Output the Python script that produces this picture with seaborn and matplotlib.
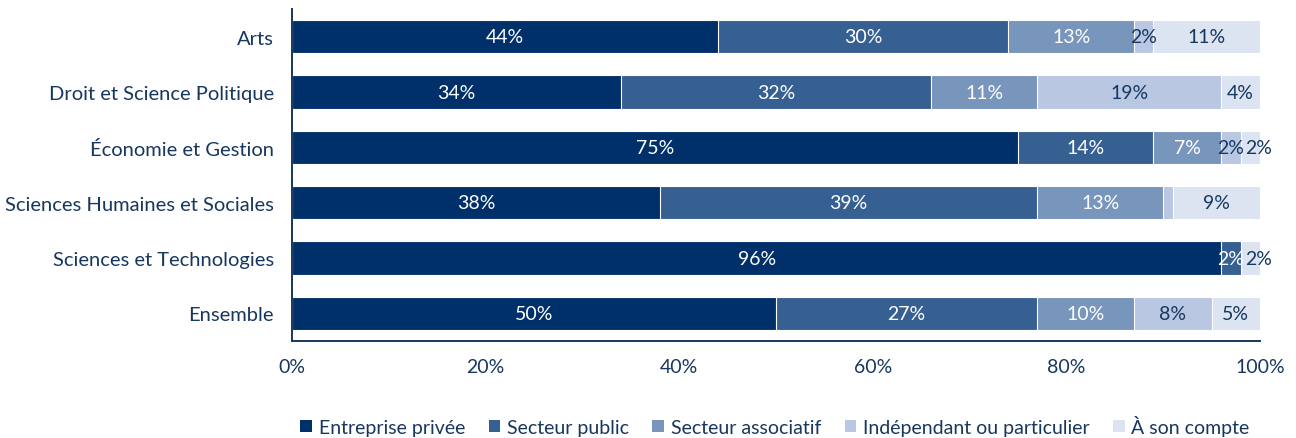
import matplotlib.pyplot as plt
import numpy as np
import pandas as pd
import seaborn as sns
from matplotlib.patches import Patch

sns.set_theme(style='white')
plt.rcParams['font.family'] = ['Lato', 'DejaVu Sans']

categories = ['Arts', 'Droit et Science Politique', 'Économie et Gestion',
              'Sciences Humaines et Sociales', 'Sciences et Technologies', 'Ensemble']
series = ['Entreprise privée', 'Secteur public', 'Secteur associatif',
          'Indépendant ou particulier', 'À son compte']
privee = [44, 34, 75, 38, 96, 50]
public = [30, 32, 14, 39, 2, 27]
associatif = [13, 11, 7, 13, 0, 10]
independant = [2, 19, 2, 1, 0, 8]
compte = [11, 4, 2, 9, 2, 5]
x_ticks = [0, 20, 40, 60, 80, 100]

colors = ['#00306A', '#376092', '#7895BB', '#B9C7E3', '#DCE4F2']
text_colors = ['white', 'white', 'white', '#17375E', '#17375E']
navy = '#17375E'


def main():
    values = np.array([privee, public, associatif, independant, compte], dtype=float)
    cum = values.cumsum(axis=0)

    fig, ax = plt.subplots(figsize=(12.96, 4.39), dpi=100)
    fig.subplots_adjust(left=0.2253, right=0.9722, top=0.977, bottom=0.221)

    # stacked bars: draw cumulative totals from the largest down
    for i in range(len(series) - 1, -1, -1):
        df = pd.DataFrame({'cat': categories, 'val': cum[i]})
        sns.barplot(data=df, x='val', y='cat', orient='y', color=colors[i],
                    saturation=1, width=0.6, edgecolor='white', linewidth=0.8, ax=ax)

    for i in range(len(series)):
        for j, cat in enumerate(categories):
            v = values[i, j]
            if v >= 2:
                xc = cum[i, j] - v / 2
                # small last segment: push its label a bit to the right
                if i == len(series) - 1 and v <= 2:
                    xc += 0.9
                ax.text(xc, j, f'{int(v)}%', ha='center', va='center',
                        color=text_colors[i], fontsize=14)

    ax.set_xlim(0, 100)
    ax.set_ylim(5.5, -0.5)
    ax.set_xticks(x_ticks)
    ax.set_xticklabels([f'{t}%' for t in x_ticks], color=navy, fontsize=14)
    ax.set_yticks(np.arange(len(categories)))
    ax.set_yticklabels(categories, color=navy, fontsize=14.5)
    ax.tick_params(axis='y', length=0, pad=13)
    ax.tick_params(axis='x', length=7, width=1.2, color=navy, direction='out', pad=5)
    # minor ticks on the category boundaries
    ax.set_yticks(np.arange(-0.5, len(categories), 1), minor=True)
    ax.tick_params(axis='y', which='minor', length=6, width=1.2, color=navy, direction='out')
    ax.set_xlabel('')
    ax.set_ylabel('')
    for s in ['top', 'right']:
        ax.spines[s].set_visible(False)
    for s in ['left', 'bottom']:
        ax.spines[s].set_color(navy)
        ax.spines[s].set_linewidth(1.4)

    handles = [Patch(facecolor=c, edgecolor='none') for c in colors]
    leg = fig.legend(handles, series, loc='lower center', ncol=5, frameon=False,
                     bbox_to_anchor=(0.598, -0.035), fontsize=14, handlelength=0.6,
                     handleheight=0.6, handletextpad=0.35, columnspacing=1.2)
    for t in leg.get_texts():
        t.set_color(navy)

    plt.savefig('out.png', dpi=100)


if __name__ == '__main__':
    main()
